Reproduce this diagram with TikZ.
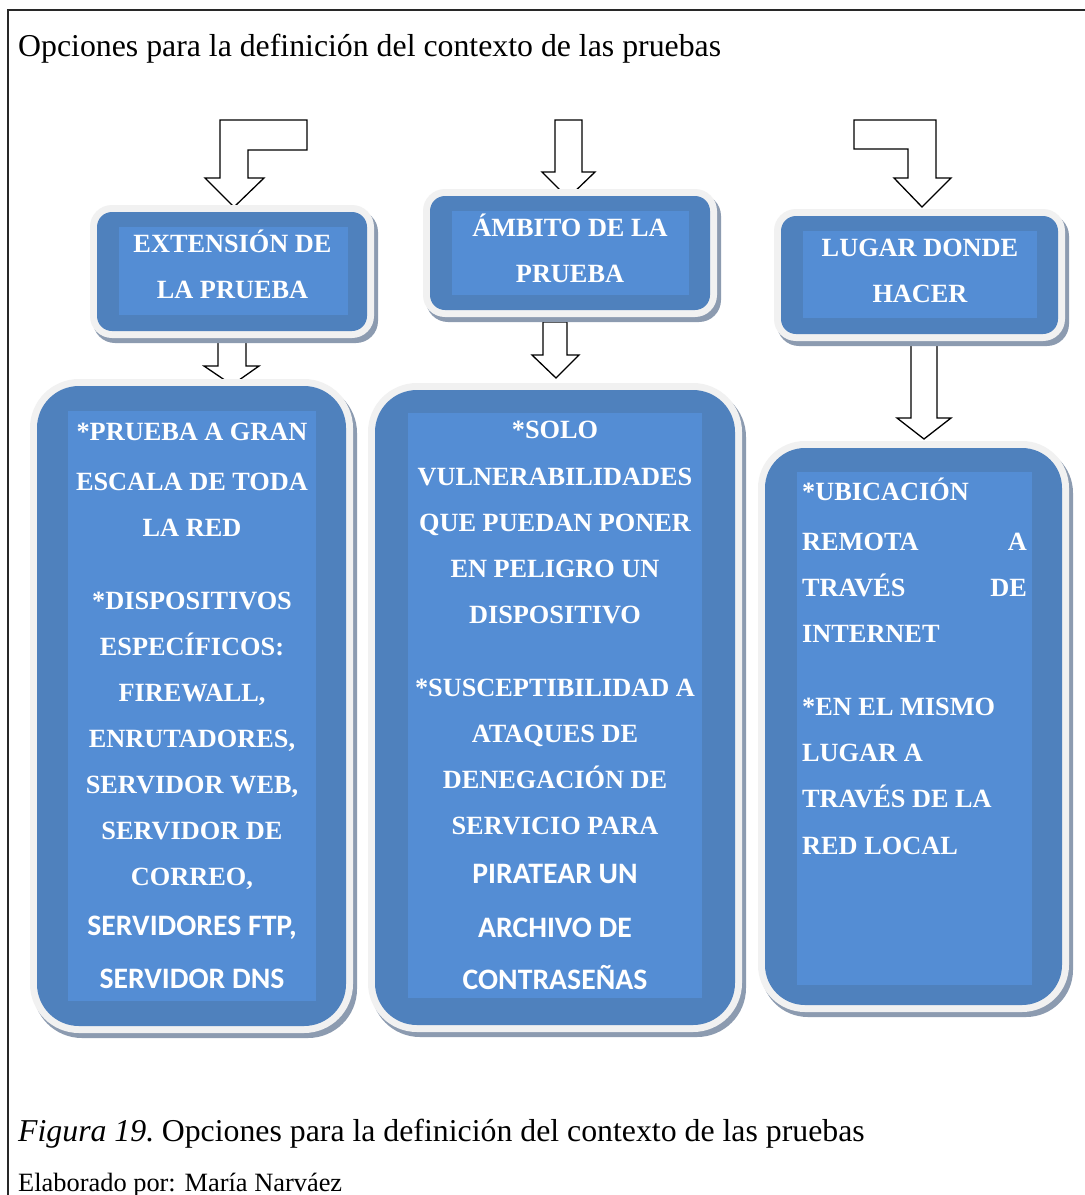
\documentclass[tikz,border=0pt]{standalone}
\usepackage{fontspec}
\setmainfont{Liberation Serif}
\newfontfamily\calfont{Carlito}
\usetikzlibrary{fit}
\definecolor{boxblue}{RGB}{79,129,189}
\definecolor{innerblue}{RGB}{84,141,212}
\definecolor{rimgray}{RGB}{241,241,241}
\definecolor{shadowgray}{RGB}{140,155,176}
\definecolor{framegray}{RGB}{40,40,40}
\newcommand\myroundbox[6]{%
  \fill[shadowgray,rounded corners=#6pt+7pt] (#2-4,#3-2) rectangle (#4+11,#5+12);
  \fill[rimgray,rounded corners=#6pt+7pt] (#2-7,#3-7) rectangle (#4+7,#5+7);
  \node[fit={(#2,#3) (#4,#5)},inner sep=0pt,fill=boxblue,rounded corners=#6pt] (#1) {};
}
\newcommand\myinner[5]{%
  \node[fit={(#2,#3) (#4,#5)},inner sep=0pt,fill=innerblue] (#1) {};
}
\begin{document}
\begin{tikzpicture}[x=1pt,y=-1pt,
  lbl/.style={text=white,font=\fontsize{26.3}{30}\selectfont\bfseries,inner sep=0pt},
  clbl/.style={text=white,font=\fontsize{29.7}{33}\selectfont\calfont\bfseries,inner sep=0pt},
  blockarrow/.style={draw=black,fill=white,line width=1.3pt,line join=miter},
  plain/.style={text=black,inner sep=0pt,anchor=base west},
]
\useasboundingbox (0,0) rectangle (1085,1195);
\fill[white] (0,0) rectangle (1085,1195);
% frame
\draw[framegray,line width=1.5pt] (8,1196) -- (8,10) -- (1086,10);
\node[plain,font=\fontsize{31.8}{36}\selectfont] (title) at (18,56) {Opciones para la definición del contexto de las pruebas};

% arrows (drawn below boxes)
\draw[blockarrow] (220,120) -- (307,120) -- (307,150) -- (248,150) -- (248,178) -- (264,178) -- (234,207) -- (205,178) -- (220,178) -- cycle;
\draw[blockarrow] (555,120) -- (582,120) -- (582,172) -- (595,172) -- (568,198) -- (542,172) -- (555,172) -- cycle;
\draw[blockarrow] (854,120) -- (936,120) -- (936,178) -- (951,178) -- (922,207) -- (894,178) -- (908,178) -- (908,149) -- (854,149) -- cycle;
\draw[blockarrow] (218,335) -- (246,335) -- (246,366) -- (259,366) -- (232,385) -- (204,366) -- (218,366) -- cycle;
\draw[blockarrow] (543,322) -- (567,322) -- (567,355) -- (579,355) -- (556,378) -- (532,355) -- (543,355) -- cycle;
\draw[blockarrow] (911,340) -- (937,340) -- (937,418) -- (951,418) -- (924,439) -- (897,418) -- (911,418) -- cycle;

% header boxes
\myroundbox{h1}{97}{212}{367}{331}{15}
\myinner{h1i}{119}{227}{348}{315}
\myroundbox{h2}{430}{196}{710}{310}{15}
\myinner{h2i}{452}{211}{689}{295}
\myroundbox{h3}{781}{216}{1058}{334}{15}
\myinner{h3i}{803}{231}{1037}{318}

% bottom boxes
\myroundbox{b1}{37}{386}{346}{1026}{42}
\myinner{b1i}{68}{411}{316}{1001}
\myroundbox{b2}{375}{390}{735}{1025}{42}
\myinner{b2i}{408}{413}{702}{998}
\myroundbox{b3}{765}{448}{1062}{1005}{40}
\myinner{b3i}{797}{472}{1032}{985}

% header texts
\node[lbl,anchor=base] (h1a) at (232.5,252) {EXTENSIÓN DE};
\node[lbl,anchor=base] (h1b) at (232.5,298) {LA PRUEBA};
\node[lbl,anchor=base] (h2a) at (570,236) {ÁMBITO DE LA};
\node[lbl,anchor=base] (h2b) at (570,282) {PRUEBA};
\node[lbl,anchor=base] (h3a) at (920,256) {LUGAR DONDE};
\node[lbl,anchor=base] (h3b) at (920,302) {HACER};

% left bottom texts
\node[lbl,anchor=base] (l1) at (192,440) {*PRUEBA A GRAN};
\node[lbl,anchor=base] (l2) at (192,490) {ESCALA DE TODA};
\node[lbl,anchor=base] (l3) at (192,536) {LA RED};
\node[lbl,anchor=base] (l4) at (192,609) {*DISPOSITIVOS};
\node[lbl,anchor=base] (l5) at (192,655) {ESPECÍFICOS:};
\node[lbl,anchor=base] (l6) at (192,701) {FIREWALL,};
\node[lbl,anchor=base] (l7) at (192,747) {ENRUTADORES,};
\node[lbl,anchor=base] (l8) at (192,793) {SERVIDOR WEB,};
\node[lbl,anchor=base] (l9) at (192,839) {SERVIDOR DE};
\node[lbl,anchor=base] (l10) at (192,885) {CORREO,};
\node[clbl,anchor=base] (l11) at (192,935) {SERVIDORES FTP,};
\node[clbl,anchor=base] (l12) at (192,988) {SERVIDOR DNS};

% middle bottom texts
\node[lbl,anchor=base] (m1) at (555,438) {*SOLO};
\node[lbl,anchor=base] (m2) at (555,485) {VULNERABILIDADES};
\node[lbl,anchor=base] (m3) at (555,531) {QUE PUEDAN PONER};
\node[lbl,anchor=base] (m4) at (555,577) {EN PELIGRO UN};
\node[lbl,anchor=base] (m5) at (555,623) {DISPOSITIVO};
\node[lbl,anchor=base] (m6) at (555,696) {*SUSCEPTIBILIDAD A};
\node[lbl,anchor=base] (m7) at (555,742) {ATAQUES DE};
\node[lbl,anchor=base] (m8) at (555,788) {DENEGACIÓN DE};
\node[lbl,anchor=base] (m9) at (555,834) {SERVICIO PARA};
\node[clbl,anchor=base] (m10) at (555,883) {PIRATEAR UN};
\node[clbl,anchor=base] (m11) at (555,937) {ARCHIVO DE};
\node[clbl,anchor=base] (m12) at (555,989) {CONTRASEÑAS};

% right bottom texts
\node[lbl,anchor=base west] (r1) at (802,500) {*UBICACIÓN};
\node[lbl,anchor=base west] (r2a) at (802,550) {REMOTA};
\node[lbl,anchor=base east] (r2b) at (1027,550) {A};
\node[lbl,anchor=base west] (r3a) at (802,596) {TRAVÉS};
\node[lbl,anchor=base east] (r3b) at (1027,596) {DE};
\node[lbl,anchor=base west] (r4) at (802,642) {INTERNET};
\node[lbl,anchor=base west] (r5) at (802,715) {*EN EL MISMO};
\node[lbl,anchor=base west] (r6) at (802,761) {LUGAR A};
\node[lbl,anchor=base west] (r7) at (802,807) {TRAVÉS DE LA};
\node[lbl,anchor=base west] (r8) at (802,854) {RED LOCAL};

% caption
\node[plain,font=\fontsize{31.8}{36}\selectfont] (cap) at (18,1141) {\textit{Figura 19.}\kern-3pt{} Opciones para la definición del contexto de las pruebas};
\node[plain,font=\fontsize{26.4}{30}\selectfont] (auth) at (18,1191) {Elaborado por: María Narváez};
\end{tikzpicture}
\end{document}
